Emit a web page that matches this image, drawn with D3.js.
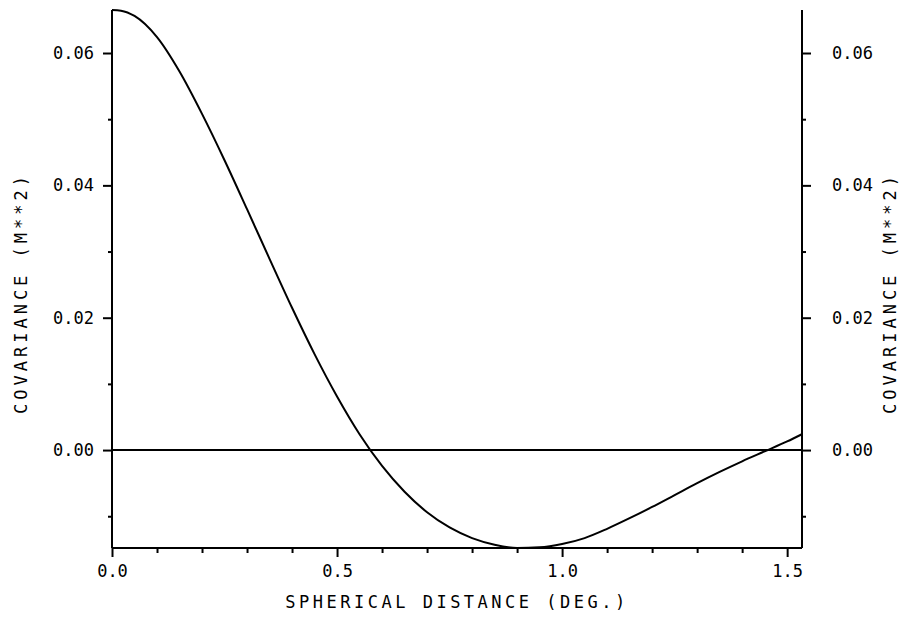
<!DOCTYPE html>
<html>
<head>
<meta charset="utf-8">
<script src="https://cdn.jsdelivr.net/npm/d3@7"></script>
<style>
  html, body { margin: 0; padding: 0; background: #fff; }
  svg text { font-family: "DejaVu Sans Mono", "Liberation Mono", monospace; fill: #000; }
</style>
</head>
<body>
<svg id="chart" width="908" height="623"></svg>
<script>
// ---- data ----
const distance = [0, 0.02, 0.05, 0.1, 0.15, 0.2, 0.25, 0.3, 0.35, 0.4, 0.45, 0.5, 0.55, 0.6, 0.65, 0.7, 0.75, 0.8, 0.85, 0.9, 0.95, 1.0, 1.05, 1.1, 1.15, 1.2, 1.25, 1.3, 1.35, 1.4, 1.45, 1.5, 1.533];
const covariance = [0.0665, 0.0664, 0.0656, 0.0624, 0.0572, 0.0508, 0.0438, 0.0364, 0.0289, 0.0215, 0.0145, 0.0081, 0.0024, -0.0024, -0.0063, -0.0094, -0.0117, -0.0133, -0.0143, -0.0148, -0.0147, -0.0142, -0.0133, -0.0119, -0.0103, -0.0086, -0.0068, -0.0050, -0.0033, -0.0017, -0.0002, 0.0013, 0.0024];
const xMajorTicks = [0.0, 0.5, 1.0, 1.5];
const xMinorTicks = [0.1, 0.2, 0.3, 0.4, 0.6, 0.7, 0.8, 0.9, 1.1, 1.2, 1.3, 1.4];
const yMajorTicks = [0.00, 0.02, 0.04, 0.06];
const yMinorTicks = [-0.01, 0.01, 0.03, 0.05];
const xDomain = [0, 1.533];
const yDomain = [-0.0148, 0.0665];
const xTitle = "SPHERICAL DISTANCE (DEG.)";
const yTitle = "COVARIANCE (M**2)";

// ---- layout ----
const mLeft = 112, mRight = 802, mTop = 10, mBottom = 548;
const svg = d3.select("#chart");
const x = d3.scaleLinear().domain(xDomain).range([mLeft, mRight]);
const y = d3.scaleLinear().domain(yDomain).range([mBottom, mTop]);

const stroke = "#000";

// frame lines: left, right, bottom
svg.append("line").attr("x1", mLeft).attr("x2", mLeft).attr("y1", mTop).attr("y2", mBottom)
  .attr("stroke", stroke).attr("stroke-width", 2);
svg.append("line").attr("x1", mRight).attr("x2", mRight).attr("y1", mTop).attr("y2", mBottom)
  .attr("stroke", stroke).attr("stroke-width", 2);
svg.append("line").attr("x1", mLeft).attr("x2", mRight).attr("y1", mBottom).attr("y2", mBottom)
  .attr("stroke", stroke).attr("stroke-width", 2);
// zero line
svg.append("line").attr("x1", mLeft).attr("x2", mRight).attr("y1", y(0)).attr("y2", y(0))
  .attr("stroke", stroke).attr("stroke-width", 2);

function styleAxis(g) {
  g.select(".domain").remove();
  g.selectAll(".tick line").attr("stroke", stroke).attr("stroke-width", 2);
  g.selectAll(".tick text").attr("font-size", 17).style("font-family", '"DejaVu Sans Mono", monospace');
}

// x axis major
svg.append("g").attr("transform", `translate(0,${mBottom})`)
  .call(d3.axisBottom(x).tickValues(xMajorTicks).tickSize(9).tickPadding(8).tickFormat(d3.format(".1f")))
  .call(styleAxis);
// x axis minor
svg.append("g").attr("transform", `translate(0,${mBottom})`)
  .call(d3.axisBottom(x).tickValues(xMinorTicks).tickSize(5).tickFormat(""))
  .call(styleAxis);

// y left major
svg.append("g").attr("transform", `translate(${mLeft},0)`)
  .call(d3.axisLeft(y).tickValues(yMajorTicks).tickSize(9).tickPadding(9).tickFormat(d3.format(".2f")))
  .call(styleAxis);
svg.append("g").attr("transform", `translate(${mLeft},0)`)
  .call(d3.axisLeft(y).tickValues(yMinorTicks).tickSize(4).tickFormat(""))
  .call(styleAxis);
// y right major
svg.append("g").attr("transform", `translate(${mRight},0)`)
  .call(d3.axisRight(y).tickValues(yMajorTicks).tickSize(9).tickPadding(21).tickFormat(d3.format(".2f")))
  .call(styleAxis);
svg.append("g").attr("transform", `translate(${mRight},0)`)
  .call(d3.axisRight(y).tickValues(yMinorTicks).tickSize(4).tickFormat(""))
  .call(styleAxis);

// curve
const pts = distance.map((d, i) => [d, covariance[i]]);
svg.append("path").datum(pts)
  .attr("fill", "none").attr("stroke", stroke).attr("stroke-width", 2)
  .attr("d", d3.line().x(d => x(d[0])).y(d => y(d[1])).curve(d3.curveMonotoneX));

// titles
svg.append("text").attr("x", (mLeft + mRight) / 2).attr("y", 608)
  .attr("text-anchor", "middle").attr("font-size", 17).attr("letter-spacing", 3.5)
  .text(xTitle);
svg.append("text").attr("transform", `translate(27,293) rotate(-90)`)
  .attr("text-anchor", "middle").attr("font-size", 17).attr("letter-spacing", 4)
  .text(yTitle);
svg.append("text").attr("transform", `translate(896,293) rotate(-90)`)
  .attr("text-anchor", "middle").attr("font-size", 17).attr("letter-spacing", 4)
  .text(yTitle);
</script>
</body>
</html>
